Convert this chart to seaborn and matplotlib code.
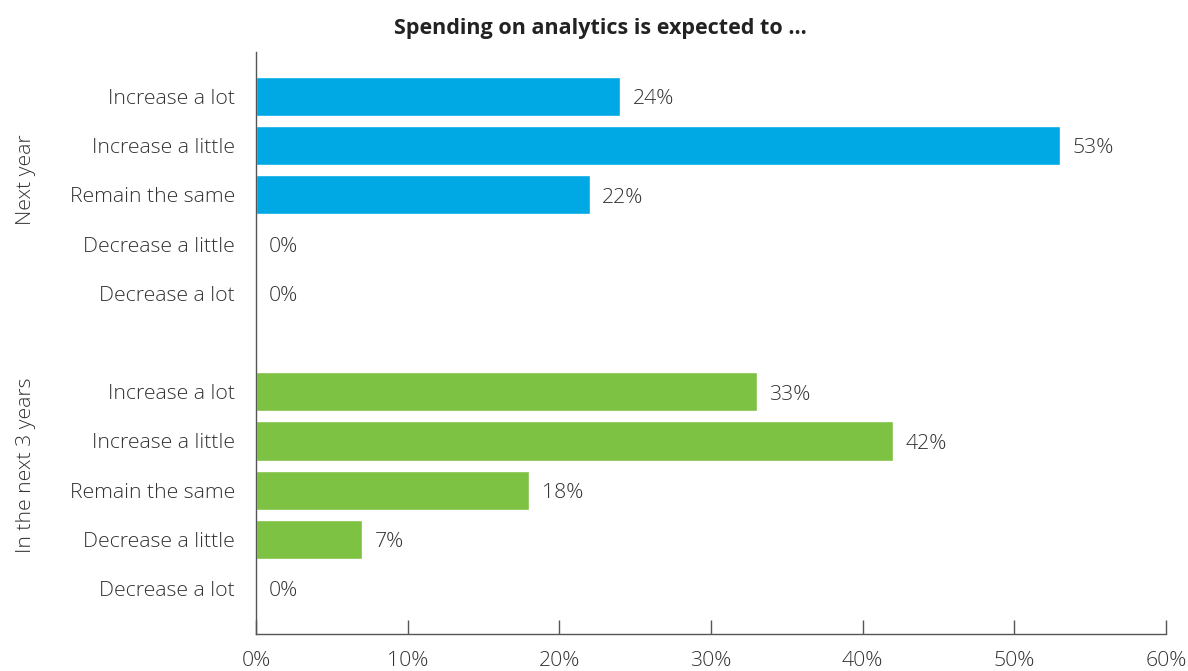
import matplotlib
matplotlib.use("Agg")
import matplotlib.pyplot as plt
import matplotlib.ticker as mticker
import pandas as pd
import seaborn as sns

# ---------------------------------------------------------------------------
# Data
# ---------------------------------------------------------------------------
answers = ["Increase a lot", "Increase a little", "Remain the same",
           "Decrease a little", "Decrease a lot"]
groups = ["Next year", "In the next 3 years"]
next_year = [24, 53, 22, 0, 0]
next_3_years = [33, 42, 18, 7, 0]
x_ticks = [0, 10, 20, 30, 40, 50, 60]

BLUE = "#00a9e4"
GREEN = "#7dc242"
TEXT = "#333333"
FS = 15.3

sns.set_theme(style="white")
plt.rcParams["font.family"] = ["Open Sans", "DejaVu Sans"]
plt.rcParams["font.weight"] = "light"

rows = []
for grp, vals in zip(groups, [next_year, next_3_years]):
    for ans, v in zip(answers, vals):
        rows.append({"key": f"{grp}|{ans}", "answer": ans, "group": grp, "value": v})
df = pd.DataFrame(rows)

# spacer category between the two blocks
order = [f"{groups[0]}|{a}" for a in answers] + ["spacer"] + [f"{groups[1]}|{a}" for a in answers]

fig = plt.figure(figsize=(11.88, 6.71), dpi=100)
ax = fig.add_axes([256 / 1188, 1 - 634 / 671, 910 / 1188, 582 / 671])

sns.barplot(data=df, x="value", y="key", hue="group", order=order,
            palette=[BLUE, GREEN], dodge=False, width=0.8, legend=False,
            saturation=1, ax=ax)

ax.set_xlim(0, 60)
ax.set_ylim(10.92, -0.9)
ax.set_xticks(x_ticks)
ax.xaxis.set_major_formatter(mticker.FuncFormatter(lambda x, _: f"{int(x)}%"))
ax.set_yticks(range(len(order)))
ax.set_yticklabels([k.split("|")[1] if "|" in k else "" for k in order])
ax.tick_params(axis="y", length=0, pad=15, labelsize=FS, labelcolor=TEXT)
ax.tick_params(axis="x", direction="in", length=10, width=1, color="#555555",
               pad=12, labelsize=FS, labelcolor=TEXT, bottom=True)
ax.set_xlabel("")
ax.set_ylabel("")

for side in ["top", "right"]:
    ax.spines[side].set_visible(False)
for side in ["left", "bottom"]:
    ax.spines[side].set_color("#555555")
    ax.spines[side].set_linewidth(1)

# value labels
for i, key in enumerate(order):
    if key == "spacer":
        continue
    v = df.loc[df["key"] == key, "value"].iloc[0]
    ax.annotate(f"{v}%", (v, i), xytext=(9, -2), textcoords="offset points",
                va="center", ha="left", fontsize=FS, color=TEXT)

# group labels
for j, grp in enumerate(groups):
    mid = j * 5.8 + 1.7
    ax.text(-0.253, mid, grp, transform=ax.get_yaxis_transform(), rotation=90,
            ha="center", va="center", fontsize=FS, color=TEXT)

fig.text(0.505, 0.958, "Spending on analytics is expected to ...", ha="center",
         va="center", fontsize=15.5, fontweight="bold", color="#222222")

fig.savefig("out.png", dpi=100)
